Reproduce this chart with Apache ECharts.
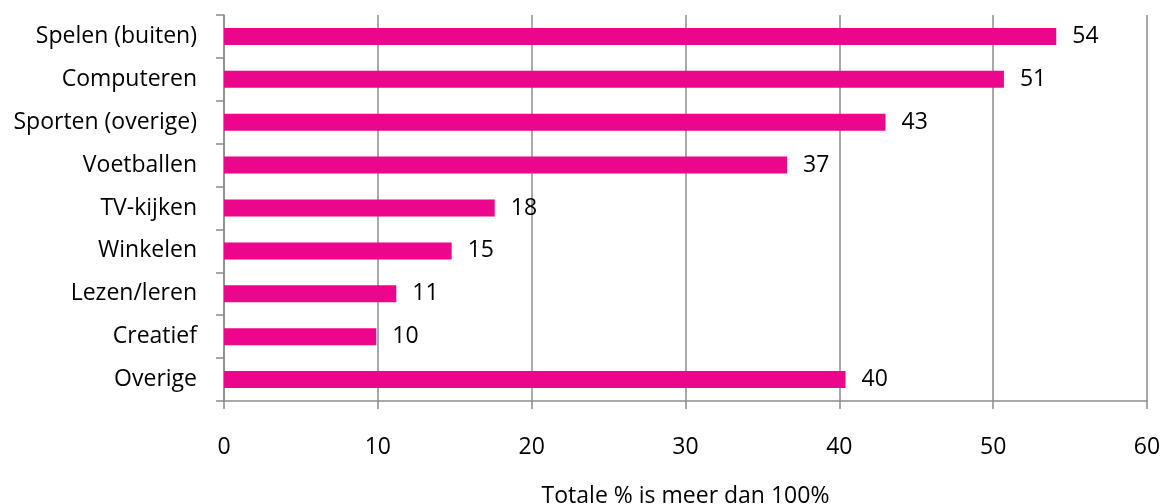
<!DOCTYPE html>
<html>
<head>
<meta charset="utf-8">
<script src="https://cdn.jsdelivr.net/npm/echarts@6/dist/echarts.min.js"></script>
<style>
  html, body { margin: 0; padding: 0; background: #fff; }
  #chart { width: 1164px; height: 504px; }
</style>
</head>
<body>
<div id="chart"></div>
<script>
// categories top to bottom
var categories = ["Spelen (buiten)", "Computeren", "Sporten (overige)", "Voetballen", "TV-kijken", "Winkelen", "Lezen/leren", "Creatief", "Overige"];
var values = [54.1, 50.7, 43.0, 36.6, 17.6, 14.8, 11.2, 9.9, 40.4];
var axisTitle = "Totale % is meer dan 100%";

var font = "Open Sans";
var chart = echarts.init(document.getElementById("chart"));

var option = {
  animation: false,
  grid: { left: 224, right: 17, top: 15, bottom: 103, outerBoundsMode: "none" },
  xAxis: {
    type: "value",
    min: 0,
    max: 60,
    interval: 10,
    name: axisTitle,
    nameLocation: "middle",
    nameGap: 84,
    nameTextStyle: { color: "#000", fontSize: 23, fontFamily: font },
    axisLine: { show: true, lineStyle: { color: "#8c8c8c", width: 1.5 } },
    axisTick: { show: true, length: 8, lineStyle: { color: "#8c8c8c", width: 1.5 } },
    axisLabel: { color: "#000", fontSize: 23, fontFamily: font, margin: 35 },
    splitLine: { show: true, lineStyle: { color: "#8c8c8c", width: 1.5 } }
  },
  yAxis: {
    type: "category",
    data: categories,
    inverse: true,
    axisLine: { show: true, lineStyle: { color: "#8c8c8c", width: 1.5 } },
    axisTick: { show: true, length: 8, lineStyle: { color: "#8c8c8c", width: 1.5 } },
    axisLabel: { color: "#000", fontSize: 23, fontFamily: font, margin: 27 }
  },
  series: [
    {
      type: "bar",
      data: values,
      barWidth: 17,
      itemStyle: { color: "#ec068c" },
      label: {
        show: true,
        position: "right",
        distance: 16,
        color: "#000",
        fontSize: 23,
        fontFamily: font,
        formatter: function (p) { return Math.round(p.value); }
      }
    }
  ]
};

chart.setOption(option);
</script>
</body>
</html>
